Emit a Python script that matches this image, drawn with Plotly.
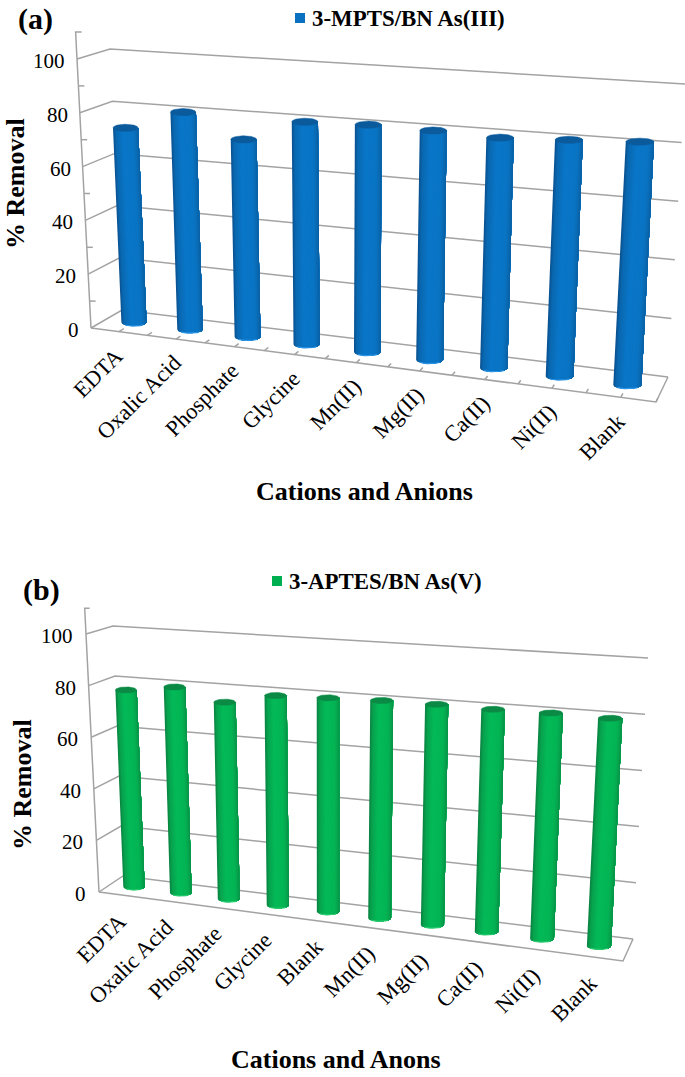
import plotly.graph_objects as go

# ---------- data ----------
categories_a = ["EDTA", "Oxalic Acid", "Phosphate", "Glycine", "Mn(II)", "Mg(II)", "Ca(II)", "Ni(II)", "Blank"]
removal_a = [73.0, 80.6, 72.3, 80.5, 81.2, 80.9, 80.2, 81.3, 82.5]
series_a = "3-MPTS/BN As(III)"
xtitle_a = "Cations and Anions"

categories_b = ["EDTA", "Oxalic Acid", "Phosphate", "Glycine", "Blank", "Mn(II)", "Mg(II)", "Ca(II)", "Ni(II)", "Blank"]
removal_b = [77.1, 79.7, 75.3, 79.3, 79.9, 80.4, 80.5, 80.2, 80.4, 80.1]
series_b = "3-APTES/BN As(V)"
xtitle_b = "Cations and Anons"

y_ticks = [0, 20, 40, 60, 80, 100]
y_minor = [10, 30, 50, 70, 90]
ytitle = "% Removal"

FONT = "Liberation Serif"
GRID = "#a3a3a3"
K = 1.13   # perspective foreshortening along the category axis

panel_a = dict(
    cats=categories_a, vals=removal_a, name=series_a, xtitle=xtitle_a, tag="(a)",
    FL=(91, 328), FR=(656, 402), BL=(122, 310), BR=(668, 377),
    TFL=(77, 59), TFR=(673, 101), TBL=(110, 49), TBR=(685, 84),
    rx=(12.5, 14.2), ry=3.6, minor=True,
    stops=[(-1, "#0a4f8c"), (-0.78, "#0a68b0"), (-0.2, "#0a76c8"), (0.6, "#0a74c4"), (0.88, "#0a68b0"), (1, "#0a5c9f")],
    top="#0a5a9c", rim="#2a94e6", marker="#0a70c0",
    tag_xy=(35, 19), leg_sq=(300, 18), leg_x=311, leg_y=18,
    ytitle_xy=(15, 184), xtitle_xy=(364, 491), lab_off=(11, 10), tick_off=(-11, 2),
)
panel_b = dict(
    cats=categories_b, vals=removal_b, name=series_b, xtitle=xtitle_b, tag="(b)",
    FL=(99, 892), FR=(623, 961), BL=(123, 876), BR=(633, 939),
    TFL=(86, 634), TFR=(639, 669), TBL=(113, 626), TBR=(648, 658),
    rx=(10.6, 12.2), ry=3.1, minor=False,
    stops=[(-1, "#0a8040"), (-0.75, "#08a24e"), (-0.2, "#04ba58"), (0.6, "#04b454"), (0.88, "#08a04c"), (1, "#0a8c46")],
    top="#0a8a44", rim="#2ccb70", marker="#00b050",
    tag_xy=(41, 590), leg_sq=(277, 581), leg_x=288, leg_y=581,
    ytitle_xy=(22, 785), xtitle_xy=(336, 1059), lab_off=(10, 12), tick_off=(-12, 2),
)


def lerp(a, b, f):
    return (a[0] + (b[0] - a[0]) * f, a[1] + (b[1] - a[1]) * f)


def warp(u):
    return u / (u + K * (1 - u)) if u > 0 else 0.0


def project(p, u, d, v):
    """Map category fraction u, depth d (0 front, 1 back), value v to page position."""
    t = warp(u)
    w = v / 100.0
    floor = lerp(lerp(p["FL"], p["FR"], t), lerp(p["BL"], p["BR"], t), d)
    roof = lerp(lerp(p["TFL"], p["TFR"], t), lerp(p["TBL"], p["TBR"], t), d)
    return lerp(floor, roof, w)


def hex2rgb(h):
    return tuple(int(h[i:i + 2], 16) for i in (1, 3, 5))


def shade(stops, s):
    for (s0, c0), (s1, c1) in zip(stops, stops[1:]):
        if s0 <= s <= s1:
            f = (s - s0) / (s1 - s0)
            a, b = hex2rgb(c0), hex2rgb(c1)
            return "#%02x%02x%02x" % tuple(round(a[i] + (b[i] - a[i]) * f) for i in range(3))
    return stops[-1][1]


def polyline(segments):
    xs, ys = [], []
    for seg in segments:
        for x, y in seg:
            xs.append(x)
            ys.append(y)
        xs.append(None)
        ys.append(None)
    return xs, ys


fig = go.Figure()
annotations = []


def text(x, y, s, size, bold=False, angle=0, xa="center", ya="middle"):
    annotations.append(dict(
        x=x, y=y, xref="x", yref="y", text=f"<b>{s}</b>" if bold else s, showarrow=False,
        font=dict(family=FONT, size=size, color="#000000"), textangle=angle,
        xanchor=xa, yanchor=ya, borderpad=0,
    ))


def draw(p):
    n = len(p["cats"])
    # walls and floor
    segs = []
    for v in y_ticks:
        segs.append([project(p, 0, 0, v), project(p, 0, 1, v), project(p, 1, 1, v)])
    segs.append([project(p, 0, 0, 0), project(p, 0, 0, 110), (project(p, 0, 0.18, 110)[0], project(p, 0, 0, 110)[1])])
    segs.append([project(p, 0, 0, 0), project(p, 1, 0, 0), project(p, 1, 1, 0)])
    if p["minor"]:
        for v in y_minor:
            a = project(p, 0, 0, v)
            segs.append([a, (a[0] + 6, a[1])])
        for i in range(1, 2 * n + 1):
            segs.append([project(p, i / (2 * n), 0, 0), project(p, i / (2 * n), 0.16, 0)])
    xs, ys = polyline(segs)
    fig.add_trace(go.Scatter(x=xs, y=ys, mode="lines", line=dict(color=GRID, width=1.5), hoverinfo="skip"))

    # cylinders: painted left to right, each band reaching the right edge so no seams show
    N = 28
    prof = [-1 + 2 * j / N for j in range(N + 1)]
    low = lambda s, ry: ry * max(0.0, 1 - s * s) ** 0.5
    bands = {j: [] for j in range(N)}
    tops, rims = [], []
    for i, val in enumerate(p["vals"]):
        u = (i + 0.5) / n
        t = warp(u)
        rx = p["rx"][0] + (p["rx"][1] - p["rx"][0]) * t
        ry = p["ry"]
        base = project(p, u, 0.5, 0)
        head = project(p, u, 0.5, val)
        for j in range(N):
            arc = [(base[0] + rx * s, base[1] + low(s, ry)) for s in reversed(prof[j:])]
            s0 = prof[j]
            bands[j].append([(head[0] + rx * s0, head[1] + low(s0, ry)), (head[0] + rx, head[1])] + arc +
                            [(head[0] + rx * s0, head[1] + low(s0, ry))])
        tops.append([(head[0] + rx * s, head[1] + low(s, ry)) for s in prof] +
                    [(head[0] + rx * s, head[1] - low(s, ry)) for s in reversed(prof)])
        rims.append([(base[0] + rx * s, base[1] + low(s, ry)) for s in prof[4:-4]])
    for j in range(N):
        xs, ys = polyline(bands[j])
        c = shade(p["stops"], -1 + 2 * (j + 0.5) / N)
        fig.add_trace(go.Scatter(x=xs, y=ys, mode="lines", fill="toself", fillcolor=c,
                                 line=dict(color=c, width=0), hoverinfo="skip"))
    xs, ys = polyline(tops)
    fig.add_trace(go.Scatter(x=xs, y=ys, mode="lines", fill="toself", fillcolor=p["top"],
                             line=dict(color=p["top"], width=0.5), name=p["name"]))
    xs, ys = polyline(rims)
    fig.add_trace(go.Scatter(x=xs, y=ys, mode="lines", line=dict(color=p["rim"], width=1.2), hoverinfo="skip"))

    # legend marker
    fig.add_trace(go.Scatter(x=[p["leg_sq"][0]], y=[p["leg_sq"][1]], mode="markers",
                             marker=dict(symbol="square", size=10, color=p["marker"]), hoverinfo="skip"))
    text(p["leg_x"], p["leg_y"], p["name"], 22.9, bold=True, xa="left")
    text(*p["tag_xy"], p["tag"], 30, bold=True)
    text(*p["ytitle_xy"], ytitle, 26, bold=True, angle=-90)
    text(*p["xtitle_xy"], p["xtitle"], 26, bold=True)

    for v in y_ticks:
        x, y = project(p, 0, 0, v)
        text(x + p["tick_off"][0], y + p["tick_off"][1], str(v), 21, xa="right")
    for i, lab in enumerate(p["cats"]):
        x, y = project(p, (i + 0.5) / n, 0, 0)
        text(x + p["lab_off"][0], y + p["lab_off"][1], lab, 22.5, angle=-45, xa="right", ya="top")


draw(panel_a)
draw(panel_b)

fig.update_layout(
    width=685, height=1077, margin=dict(l=0, r=0, t=0, b=0),
    paper_bgcolor="white", plot_bgcolor="white", showlegend=False,
    annotations=annotations,
    xaxis=dict(range=[0, 685], visible=False, fixedrange=True),
    yaxis=dict(range=[1077, 0], visible=False, fixedrange=True),
)
fig.write_html("out.html", post_script="document.body.style.margin='0';", config={"displayModeBar": False})
